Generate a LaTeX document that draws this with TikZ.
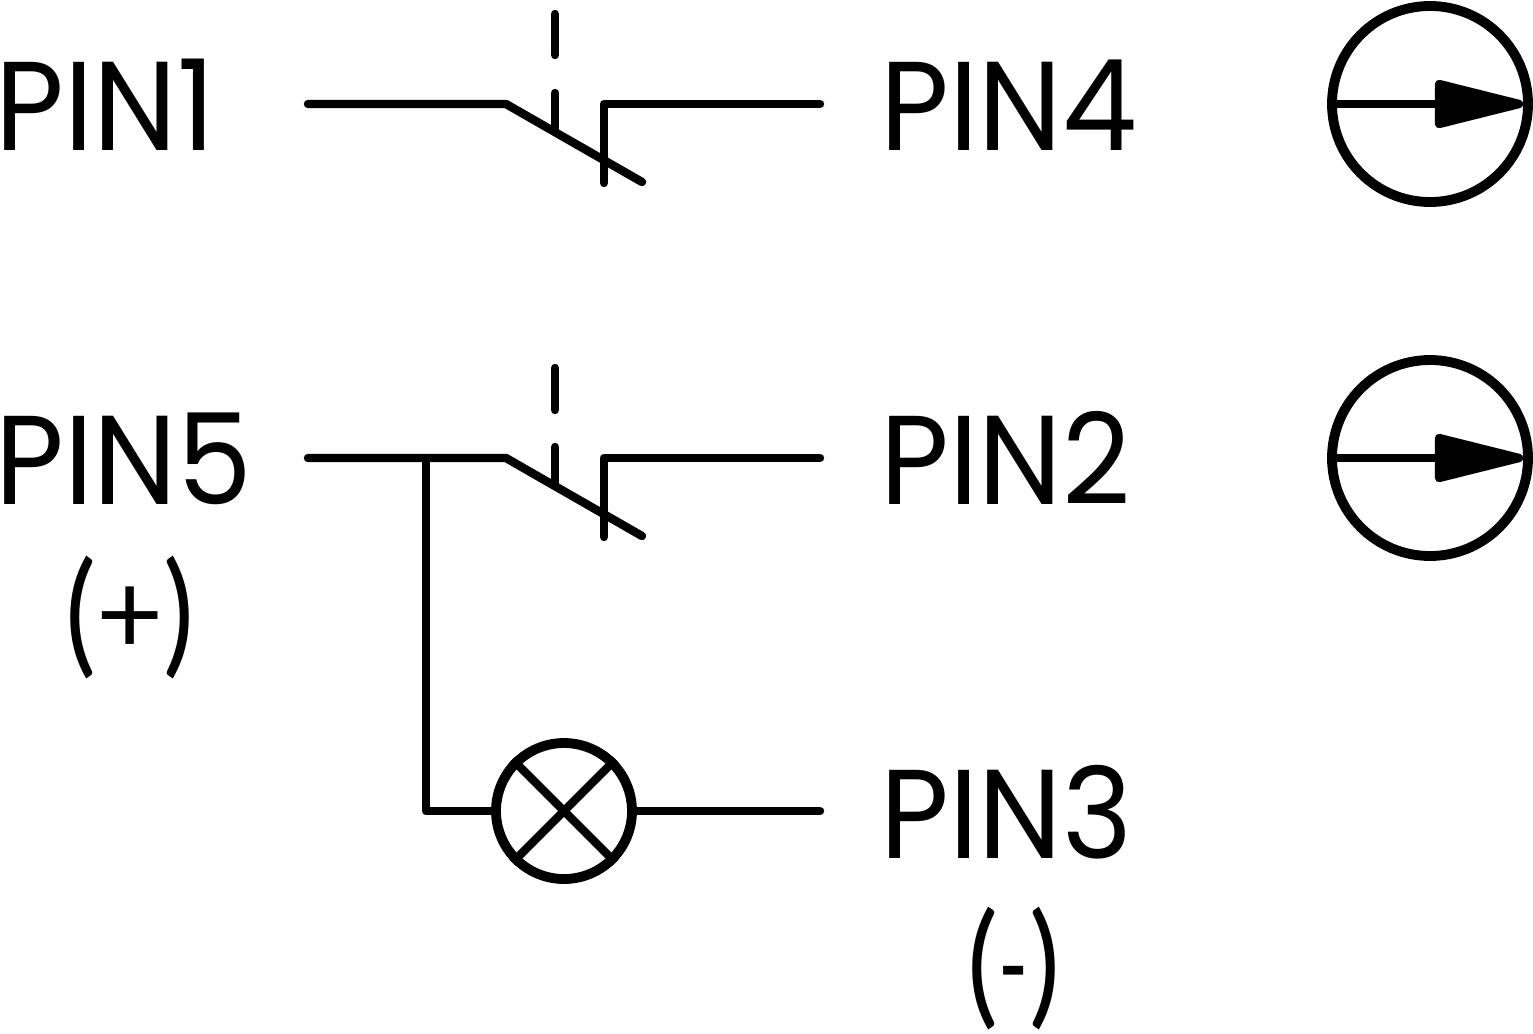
\documentclass[tikz,border=0pt]{standalone}
\usepackage{fontspec}
\setmainfont[FakeStretch=0.94]{Poppins}
\newfontfamily\signfont{Lato}
\usepackage{tikz}

\newcommand{\tallparen}[1]{\raisebox{-0.045em}{\scalebox{1}[1.15]{#1}}}

\tikzset{
    wire/.style={line width=2.4pt, line cap=round, line join=round},
    pin/.style={font=\fontsize{36}{36}\selectfont, inner sep=0pt},
    sign/.style={font=\fontsize{33}{33}\signfont, inner sep=0pt},
    ring/.style={draw, circle, line width=2.8pt, inner sep=0pt},
    spoke/.style={line width=2.4pt},
    head/.style={wire, fill=black}
}

\begin{document}
\begin{tikzpicture}
    \useasboundingbox (0,0) rectangle (15.33,-10.33);

    % Define labels
    \node[pin, anchor=base west] (P1) at (-0.05,-1.50) {PIN1};
    \node[pin, anchor=base west] (P5) at (-0.05,-5.04) {PIN5};
    \node[pin, anchor=base west] (P4) at (8.80,-1.50) {PIN4};
    \node[pin, anchor=base west] (P2) at (8.80,-5.04) {PIN2};
    \node[pin, anchor=base west] (P3) at (8.80,-8.58) {PIN3};
    \node[sign] (PLUS) at (1.30,-6.18) {\tallparen{(}+\tallparen{)}};
    \node[sign] (MINUS) at (10.14,-9.69) {\tallparen{(}\scalebox{0.7}[1]{-}\tallparen{)}};

    % Define switch points
    \coordinate (A1) at (3.08,-1.04);
    \coordinate (A2) at (5.06,-1.04);
    \coordinate (A3) at (6.42,-1.82);
    \coordinate (A4) at (8.20,-1.04);
    \coordinate (A5) at (6.04,-1.04);
    \coordinate (A6) at (6.04,-1.83);
    \coordinate (A7) at (5.55,-0.14);
    \coordinate (A8) at (5.55,-0.55);
    \coordinate (A9) at (5.55,-0.93);
    \coordinate (A10) at (5.55,-1.28);

    \coordinate (B1) at (3.08,-4.58);
    \coordinate (B2) at (5.06,-4.58);
    \coordinate (B3) at (6.42,-5.36);
    \coordinate (B4) at (8.20,-4.58);
    \coordinate (B5) at (6.04,-4.58);
    \coordinate (B6) at (6.04,-5.37);
    \coordinate (B7) at (5.55,-3.68);
    \coordinate (B8) at (5.55,-4.10);
    \coordinate (B9) at (5.55,-4.47);
    \coordinate (B10) at (5.55,-4.85);

    % Draw switches
    \draw[wire] (A1) -- (A2) -- (A3);
    \draw[wire] (A4) -- (A5) -- (A6);
    \draw[wire] (A7) -- (A8);
    \draw[wire] (A9) -- (A10);

    \draw[wire] (B1) -- (B2) -- (B3);
    \draw[wire] (B4) -- (B5) -- (B6);
    \draw[wire] (B7) -- (B8);
    \draw[wire] (B9) -- (B10);

    % Lamp branch
    \node[ring, minimum size=1.36cm] (LAMP) at (5.64,-8.11) {};
    \coordinate (T) at (4.26,-4.58);
    \coordinate (C) at (4.26,-8.11);
    \coordinate (E) at (8.20,-8.11);
    \draw[wire] (T) -- (C) -- (LAMP.west);
    \draw[wire] (LAMP.east) -- (E);
    \draw[spoke] (LAMP.north west) -- (LAMP.south east);
    \draw[spoke] (LAMP.south west) -- (LAMP.north east);

    % Draw indicators
    \node[ring, minimum size=1.96cm] (G1) at (14.30,-1.04) {};
    \node[ring, minimum size=1.96cm] (G2) at (14.30,-4.58) {};
    \coordinate (H1) at (14.38,-1.04);
    \coordinate (H2) at (14.38,-4.58);
    \draw[spoke] (G1.west) -- (H1);
    \draw[spoke] (G2.west) -- (H2);
    \draw[head] (14.39,-0.84) -- (15.19,-1.04) -- (14.39,-1.24) -- cycle;
    \draw[head] (14.39,-4.38) -- (15.19,-4.58) -- (14.39,-4.78) -- cycle;
\end{tikzpicture}
\end{document}
